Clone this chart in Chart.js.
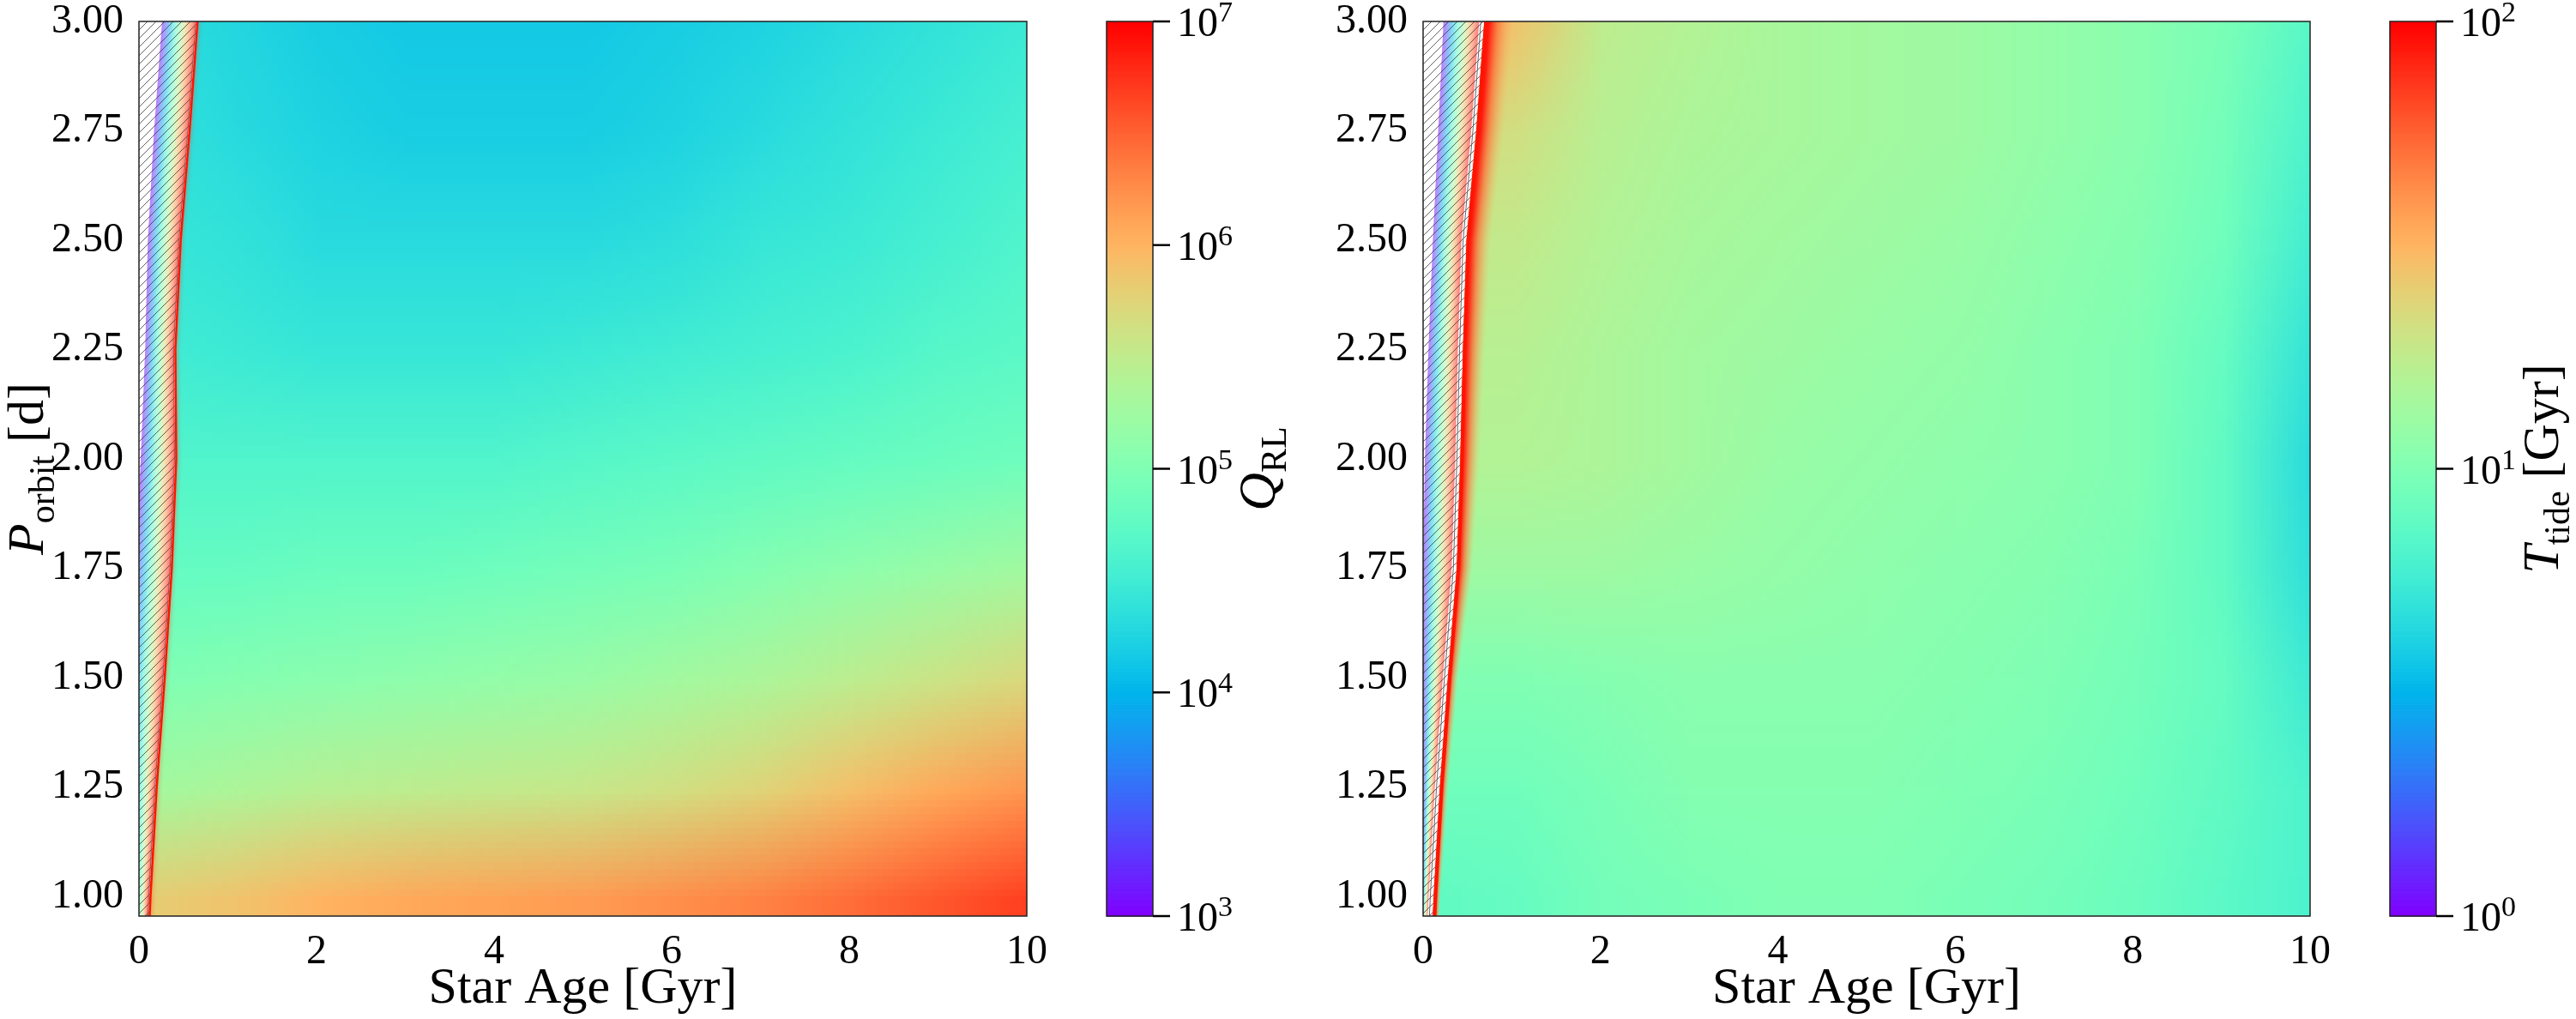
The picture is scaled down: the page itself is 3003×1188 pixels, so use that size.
<!DOCTYPE html>
<html>
<head>
<meta charset="utf-8">
<title>Q_RL and T_tide maps</title>
<script src="https://cdn.jsdelivr.net/npm/chart.js@4.4.1/dist/chart.umd.min.js"></script>
<style>
  html, body { margin: 0; padding: 0; background: #fff; }
  #page { position: relative; width: 3003px; height: 1188px; overflow: hidden; }
  canvas { position: absolute; top: 0; }
</style>
</head>
<body>
<div id="page">
  <canvas id="qChart" width="1500" height="1188" style="left:0"></canvas>
  <canvas id="tChart" width="1503" height="1188" style="left:1500px"></canvas>
</div>
<script>
// grid of the maps: star age [Gyr] x orbital period [d]
var ages = [0, 1, 2, 3, 4, 5, 6, 7, 8, 9, 10];
var periods = [1.00, 1.25, 1.50, 1.75, 2.00, 2.25, 2.50, 2.75, 3.00];

// log10(Q_RL), one row per period (bottom to top)
var logQ = [
  [5.80, 5.88, 6.00, 6.08, 6.12, 6.16, 6.24, 6.32, 6.44, 6.56, 6.68],
  [5.28, 5.36, 5.44, 5.48, 5.52, 5.56, 5.64, 5.76, 5.92, 6.08, 6.20],
  [5.00, 5.04, 5.08, 5.12, 5.16, 5.20, 5.28, 5.36, 5.48, 5.60, 5.72],
  [4.80, 4.80, 4.84, 4.84, 4.88, 4.92, 4.96, 5.04, 5.12, 5.20, 5.28],
  [4.64, 4.64, 4.64, 4.64, 4.64, 4.68, 4.72, 4.76, 4.80, 4.84, 4.88],
  [4.52, 4.48, 4.44, 4.44, 4.44, 4.48, 4.52, 4.56, 4.60, 4.68, 4.72],
  [4.44, 4.40, 4.32, 4.32, 4.32, 4.32, 4.36, 4.44, 4.48, 4.56, 4.64],
  [4.40, 4.32, 4.24, 4.20, 4.20, 4.20, 4.24, 4.32, 4.40, 4.48, 4.56],
  [4.36, 4.28, 4.20, 4.16, 4.16, 4.16, 4.20, 4.24, 4.32, 4.40, 4.48]
];

// log10(T_tide / Gyr)
var logT = [
  [0.88, 0.90, 0.96, 0.98, 1.00, 1.00, 0.98, 0.96, 0.92, 0.86, 0.80],
  [0.94, 0.94, 0.98, 1.02, 1.02, 1.02, 1.00, 0.98, 0.94, 0.88, 0.80],
  [1.00, 1.00, 1.02, 1.04, 1.04, 1.04, 1.02, 1.00, 0.96, 0.90, 0.74],
  [1.12, 1.12, 1.12, 1.10, 1.08, 1.06, 1.04, 1.02, 0.98, 0.88, 0.68],
  [1.20, 1.20, 1.18, 1.14, 1.10, 1.08, 1.06, 1.04, 1.00, 0.88, 0.66],
  [1.22, 1.22, 1.18, 1.14, 1.12, 1.10, 1.08, 1.04, 1.00, 0.90, 0.70],
  [1.26, 1.26, 1.20, 1.16, 1.14, 1.12, 1.10, 1.06, 1.02, 0.94, 0.76],
  [1.32, 1.32, 1.22, 1.18, 1.16, 1.14, 1.12, 1.08, 1.04, 0.96, 0.80],
  [1.44, 1.44, 1.24, 1.20, 1.16, 1.14, 1.12, 1.08, 1.04, 0.98, 0.84]
];

// hatched (excluded) zone: its right edge, and where the colour strip inside it starts
var edgePeriods = [0.955, 1.00, 1.25, 1.50, 1.75, 2.00, 2.25, 2.50, 2.75, 3.00];
var edgeAgeQ    = [0.12, 0.13, 0.20, 0.29, 0.37, 0.42, 0.41, 0.47, 0.57, 0.66];
var stripStartQ = [-0.07, -0.07, -0.08, -0.09, -0.04, 0.02, 0.07, 0.10, 0.17, 0.26];
var edgeAgeT    = [0.11, 0.12, 0.19, 0.28, 0.38, 0.42, 0.45, 0.49, 0.60, 0.69];
var stripStartT = [-0.02, -0.01, 0.00, 0.00, 0.00, 0.02, 0.06, 0.11, 0.17, 0.23];
var rimT        = [0.08, 0.08, 0.10, 0.12, 0.18, 0.22, 0.25, 0.28, 0.32, 0.35];

var ageTicks = [0, 2, 4, 6, 8, 10];
var periodTicks = [1.00, 1.25, 1.50, 1.75, 2.00, 2.25, 2.50, 2.75, 3.00];
var qTicks = [3, 4, 5, 6, 7];
var tTicks = [0, 1, 2];

var SERIF = "'Liberation Serif', 'Times New Roman', serif";

// matplotlib 'rainbow'
function rainbow(t) {
  t = Math.max(0, Math.min(1, t));
  var r = Math.min(1, Math.abs(2 * t - 0.5));
  var g = Math.sin(Math.PI * t);
  var b = Math.cos(Math.PI * t / 2);
  return [Math.round(r * 255), Math.round(g * 255), Math.round(b * 255)];
}
function css(c, a) {
  return 'rgba(' + c[0] + ',' + c[1] + ',' + c[2] + ',' + a + ')';
}

// position of the hatched zone's edge along one pixel row
function edgeAt(p, vals) {
  var ps = edgePeriods;
  if (p <= ps[0]) return vals[0];
  for (var i = 1; i < ps.length; i++) {
    if (p <= ps[i]) {
      var f = (p - ps[i - 1]) / (ps[i] - ps[i - 1]);
      return vals[i - 1] + f * (vals[i] - vals[i - 1]);
    }
  }
  return vals[ps.length - 1];
}

function partsWidth(ctx, parts) {
  var w = 0;
  parts.forEach(function (p) {
    ctx.font = (p[2] ? 'italic ' : '') + p[1] + 'px ' + SERIF;
    w += ctx.measureText(p[0]).width;
  });
  return w;
}
function drawParts(ctx, parts, x, y) {
  parts.forEach(function (p) {
    ctx.font = (p[2] ? 'italic ' : '') + p[1] + 'px ' + SERIF;
    ctx.fillText(p[0], x, y + p[3]);
    x += ctx.measureText(p[0]).width;
  });
}
function rotatedLabel(ctx, parts, bx, cy) {
  ctx.save();
  ctx.translate(bx, cy);
  ctx.rotate(-Math.PI / 2);
  ctx.textAlign = 'left';
  ctx.textBaseline = 'alphabetic';
  ctx.fillStyle = '#000';
  drawParts(ctx, parts, -partsWidth(ctx, parts) / 2, 0);
  ctx.restore();
}

var yLabel = [['P', 60, true, 0], ['orbit', 42, false, 13], [' [d]', 60, false, 0]];

function makeMap(cfg) {
  return {
    id: 'heatmap',
    beforeDatasetsDraw: function (chart) {
      var ctx = chart.ctx, a = chart.chartArea, xs = chart.scales.x, ys = chart.scales.y;
      var grid = cfg.grid, nx = ages.length, ny = periods.length;

      // one pixel per grid value, smoothed when scaled onto the axes
      var off = document.createElement('canvas');
      off.width = nx; off.height = ny;
      var octx = off.getContext('2d');
      var img = octx.createImageData(nx, ny);
      for (var r = 0; r < ny; r++) {
        for (var c = 0; c < nx; c++) {
          var col = rainbow((grid[r][c] - cfg.vmin) / (cfg.vmax - cfg.vmin));
          var k = ((ny - 1 - r) * nx + c) * 4;
          img.data[k] = col[0]; img.data[k + 1] = col[1]; img.data[k + 2] = col[2]; img.data[k + 3] = 255;
        }
      }
      octx.putImageData(img, 0, 0);
      var hx = (ages[1] - ages[0]) / 2, hy = (periods[1] - periods[0]) / 2;
      var x0 = xs.getPixelForValue(ages[0] - hx), x1 = xs.getPixelForValue(ages[nx - 1] + hx);
      var y0 = ys.getPixelForValue(periods[ny - 1] + hy), y1 = ys.getPixelForValue(periods[0] - hy);

      var pts = edgePeriods.map(function (p, i) {
        return [xs.getPixelForValue(cfg.edge[i]), ys.getPixelForValue(p)];
      });

      ctx.save();
      ctx.beginPath();
      ctx.rect(a.left, a.top, a.width, a.height);
      ctx.clip();

      // field right of the edge
      ctx.save();
      ctx.beginPath();
      ctx.moveTo(a.right + 2, a.bottom + 2);
      ctx.lineTo(pts[0][0], a.bottom + 2);
      pts.forEach(function (pt) { ctx.lineTo(pt[0], pt[1]); });
      ctx.lineTo(pts[pts.length - 1][0], a.top - 2);
      ctx.lineTo(a.right + 2, a.top - 2);
      ctx.closePath();
      ctx.clip();
      ctx.imageSmoothingEnabled = true;
      ctx.imageSmoothingQuality = 'low';
      ctx.drawImage(off, x0, y0, x1 - x0, y1 - y0);

      var y, p, e, g, w, s, L;
      if (cfg.rim) {
        for (y = Math.floor(a.top); y < a.bottom; y++) {
          p = ys.getValueForPixel(y + 0.5);
          e = xs.getPixelForValue(edgeAt(p, cfg.edge));
          w = xs.getPixelForValue(edgeAt(p, cfg.edge) + edgeAt(p, cfg.rim)) - e;
          g = ctx.createLinearGradient(e, 0, e + w, 0);
          g.addColorStop(0, css(rainbow(1), 1));
          g.addColorStop(0.12, css(rainbow(0.99), 1));
          g.addColorStop(0.45, css(rainbow(0.86), 0.75));
          g.addColorStop(1, css(rainbow(0.74), 0));
          ctx.fillStyle = g;
          ctx.fillRect(e - 1, y, w + 1, 1);
        }
      }
      ctx.restore();

      // colour strip inside the hatched zone
      for (y = Math.floor(a.top); y < a.bottom; y++) {
        p = ys.getValueForPixel(y + 0.5);
        e = xs.getPixelForValue(edgeAt(p, cfg.edge)) - cfg.gap;
        s = xs.getPixelForValue(edgeAt(p, cfg.start));
        L = Math.max(s, a.left);
        if (e <= L) continue;
        g = ctx.createLinearGradient(s, 0, e, 0);
        for (var j = 0; j <= 10; j++) g.addColorStop(j / 10, css(rainbow(j / 10), 0.52));
        ctx.fillStyle = g;
        ctx.fillRect(L, y, e - L, 1);
      }

      // hatching
      ctx.save();
      ctx.beginPath();
      ctx.moveTo(a.left - 2, a.bottom + 2);
      ctx.lineTo(pts[0][0], a.bottom + 2);
      pts.forEach(function (pt) { ctx.lineTo(pt[0], pt[1]); });
      ctx.lineTo(pts[pts.length - 1][0], a.top - 2);
      ctx.lineTo(a.left - 2, a.top - 2);
      ctx.closePath();
      ctx.clip();
      ctx.strokeStyle = 'rgba(50,50,50,0.75)';
      ctx.lineWidth = 1;
      ctx.beginPath();
      for (var k2 = -a.height; k2 < 160; k2 += 10) {
        ctx.moveTo(a.left + k2, a.bottom);
        ctx.lineTo(a.left + k2 + a.height, a.top);
      }
      ctx.stroke();
      ctx.restore();

      // edge contours
      function edgePath(dx) {
        ctx.beginPath();
        pts.forEach(function (pt, i) {
          if (i === 0) ctx.moveTo(pt[0] + dx, pt[1]); else ctx.lineTo(pt[0] + dx, pt[1]);
        });
      }
      ctx.lineJoin = 'round';
      edgePath(-cfg.gap / 2 - 1);
      ctx.strokeStyle = 'rgba(90,90,90,0.9)';
      ctx.lineWidth = 1;
      ctx.stroke();
      ctx.save();
      ctx.shadowColor = 'rgba(255,70,40,0.8)';
      ctx.shadowBlur = cfg.rim ? 2 : 5;
      edgePath(cfg.rim ? 2 : 0);
      ctx.strokeStyle = '#ff1400';
      ctx.lineWidth = cfg.rim ? 4 : 2.5;
      ctx.stroke();
      ctx.restore();

      ctx.restore();
    },
    afterDraw: function (chart) {
      var ctx = chart.ctx, a = chart.chartArea, cb = chart.scales.cb;
      ctx.save();
      ctx.strokeStyle = '#222';
      ctx.lineWidth = 1.5;
      ctx.strokeRect(a.left, a.top, a.width, a.height);

      // colour bar on its own log scale
      var bl = a.right + 93, bw = 54, n = 300;
      for (var i = 0; i < n; i++) {
        var v0 = cfg.vmin + (cfg.vmax - cfg.vmin) * i / n;
        var v1 = cfg.vmin + (cfg.vmax - cfg.vmin) * (i + 1) / n;
        var ya = cb.getPixelForValue(Math.pow(10, v0));
        var yb = cb.getPixelForValue(Math.pow(10, v1));
        ctx.fillStyle = css(rainbow((i + 0.5) / n), 1);
        ctx.fillRect(bl, yb, bw, ya - yb + 0.7);
      }
      ctx.strokeStyle = '#222';
      ctx.lineWidth = 1.5;
      ctx.strokeRect(bl, a.top, bw, a.height);

      ctx.strokeStyle = '#000';
      ctx.fillStyle = '#000';
      ctx.lineWidth = 2.5;
      ctx.textAlign = 'left';
      ctx.textBaseline = 'alphabetic';
      cfg.cbTicks.forEach(function (k) {
        var y = cb.getPixelForValue(Math.pow(10, k));
        ctx.beginPath();
        ctx.moveTo(bl + bw, y);
        ctx.lineTo(bl + bw + 20, y);
        ctx.stroke();
        drawParts(ctx, [['10', 48, false, 0], [String(k), 34, false, -17]], bl + bw + 28, y + 17);
      });

      rotatedLabel(ctx, cfg.cbLabel, a.right + 289, (a.top + a.bottom) / 2);
      if (cfg.showYLabel) rotatedLabel(ctx, yLabel, a.left - 112, (a.top + a.bottom) / 2);

      ctx.fillStyle = '#000';
      ctx.font = '60px ' + SERIF;
      ctx.textAlign = 'center';
      ctx.fillText('Star Age [Gyr]', (a.left + a.right) / 2, 1169);
      ctx.restore();
    }
  };
}

function cells(grid) {
  var out = [];
  periods.forEach(function (p, r) {
    ages.forEach(function (t, c) { out.push({ x: t, y: p, v: grid[r][c] }); });
  });
  return out;
}

function buildChart(id, grid, cfg) {
  var tickFont = { family: SERIF, size: 48 };
  return new Chart(document.getElementById(id), {
    type: 'scatter',
    data: { datasets: [{ data: cells(grid), pointRadius: 0, pointHoverRadius: 0 }] },
    options: {
      responsive: false,
      animation: false,
      devicePixelRatio: 1,
      events: [],
      layout: { padding: { top: 25, right: cfg.padRight, bottom: 0, left: 0 } },
      plugins: { legend: { display: false }, tooltip: { enabled: false } },
      scales: {
        x: {
          type: 'linear', min: 0, max: 10,
          grid: { display: false }, border: { display: false },
          ticks: { font: tickFont, color: '#000', padding: 6, maxRotation: 0 },
          afterBuildTicks: function (s) { s.ticks = ageTicks.map(function (v) { return { value: v }; }); },
          afterFit: function (s) { s.height = 120; s.paddingLeft = 0; s.paddingRight = 0; }
        },
        y: {
          type: 'linear', min: 0.955, max: 3.0,
          grid: { display: false }, border: { display: false },
          ticks: {
            font: tickFont, color: '#000', padding: 10,
            callback: function (v) { return Number(v).toFixed(2); }
          },
          afterBuildTicks: function (s) { s.ticks = periodTicks.map(function (v) { return { value: v }; }); },
          afterFit: function (s) { s.width = cfg.yWidth; s.paddingTop = 0; s.paddingBottom = 0; }
        },
        cb: {
          type: 'logarithmic', position: 'right', display: false,
          min: Math.pow(10, cfg.vmin), max: Math.pow(10, cfg.vmax)
        }
      }
    },
    plugins: [makeMap(cfg)]
  });
}

buildChart('qChart', logQ, {
  grid: logQ, vmin: 3, vmax: 7, edge: edgeAgeQ, start: stripStartQ, rim: null, gap: 2,
  cbTicks: qTicks, cbLabel: [['Q', 62, true, 0], ['RL', 42, false, 13]],
  yWidth: 162, padRight: 303, showYLabel: true
});
buildChart('tChart', logT, {
  grid: logT, vmin: 0, vmax: 2, edge: edgeAgeT, start: stripStartT, rim: rimT, gap: 6,
  cbTicks: tTicks, cbLabel: [['T', 60, true, 0], ['tide', 42, false, 13], [' [Gyr]', 60, false, 0]],
  yWidth: 159, padRight: 310, showYLabel: false
});
</script>
</body>
</html>
